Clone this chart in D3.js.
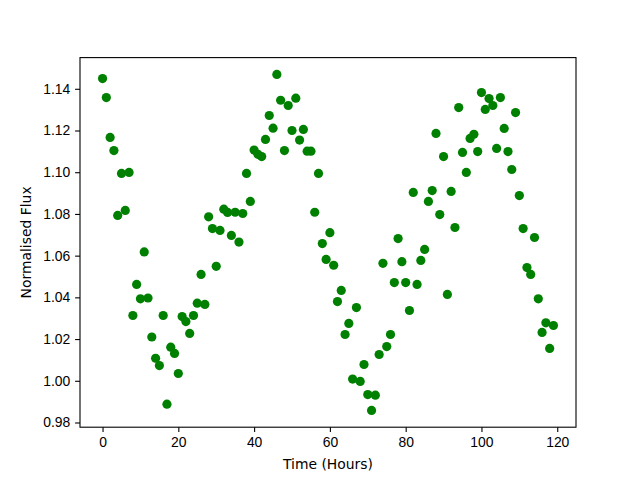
<!DOCTYPE html>
<html lang="en">
<head>
  <meta charset="UTF-8">
  <title>Normalised Flux</title>
  <script src="https://d3js.org/d3.v7.min.js"></script>
  <style>
    body { margin: 0; background: #fff; }
    svg { display: block; font-family: "DejaVu Sans", sans-serif; }
    .axis text { font-size: 13.9px; fill: #000; }
    .axis path, .axis line { stroke: #000; stroke-width: 1.1px; }
    .axis-label { font-size: 13.9px; fill: #000; }
  </style>
</head>
<body>
  <div id="chart"></div>

  <script>
    // Hours since start
    const hours = d3.range(0, 120);

    // Normalised flux, one value per hour
    const flux = [
      1.1449, 1.1358, 1.1167, 1.1104, 1.0793, 1.0994, 1.0817, 1.0999, 1.0313, 1.0462,
      1.0393, 1.0618, 1.0397, 1.0210, 1.0108, 1.0073, 1.0313, 0.9888, 1.0161, 1.0131,
      1.0035, 1.0308, 1.0284, 1.0227, 1.0313, 1.0372, 1.0510, 1.0366, 1.0786, 1.0730,
      1.0549, 1.0721, 1.0823, 1.0807, 1.0697, 1.0808, 1.0665, 1.0802, 1.0994, 1.0860,
      1.1106, 1.1086, 1.1075, 1.1157, 1.1272, 1.1211, 1.1469, 1.1345, 1.1104, 1.1320,
      1.1200, 1.1355, 1.1154, 1.1205, 1.1101, 1.1101, 1.0808, 1.0994, 1.0658, 1.0582,
      1.0710, 1.0554, 1.0380, 1.0433, 1.0222, 1.0275, 1.0008, 1.0351, 0.9997, 1.0078,
      0.9934, 0.9858, 0.9931, 1.0126, 1.0563, 1.0164, 1.0222, 1.0471, 1.0682, 1.0571,
      1.0471, 1.0337, 1.0903, 1.0462, 1.0577, 1.0630, 1.0860, 1.0912, 1.1186, 1.0797,
      1.1075, 1.0414, 1.0908, 1.0735, 1.1310, 1.1095, 1.0999, 1.1162, 1.1182, 1.1099,
      1.1382, 1.1301, 1.1353, 1.1320, 1.1114, 1.1358, 1.1210, 1.1099, 1.1013, 1.1286,
      1.0888, 1.0730, 1.0543, 1.0510, 1.0687, 1.0393, 1.0232, 1.0278, 1.0155, 1.0265
    ];

    const xTicks = [0, 20, 40, 60, 80, 100, 120];
    const yTicks = [0.98, 1.00, 1.02, 1.04, 1.06, 1.08, 1.10, 1.12, 1.14];

    const points = hours.map((h, i) => ({ hour: h, flux: flux[i] }));

    // Same figure layout as a default matplotlib figure
    const W = 640, H = 480;
    const margin = {top: 57.6, right: 64, bottom: 52.8, left: 80},
          width = W - margin.left - margin.right,
          height = H - margin.top - margin.bottom;

    const svg = d3.select("#chart")
                  .append("svg")
                  .attr("width", W)
                  .attr("height", H);

    const g = svg.append("g")
                 .attr("transform", `translate(${margin.left}, ${margin.top})`);

    // 5% padding around the data, like matplotlib autoscale
    function padded(ext) {
      const p = (ext[1] - ext[0]) * 0.05;
      return [ext[0] - p, ext[1] + p];
    }

    const x = d3.scaleLinear()
                .domain(padded(d3.extent(hours)))
                .range([0, width]);

    const y = d3.scaleLinear()
                .domain(padded(d3.extent(flux)))
                .range([height, 0]);

    // Points
    g.selectAll("circle")
     .data(points)
     .enter()
     .append("circle")
     .attr("cx", d => x(d.hour))
     .attr("cy", d => y(d.flux))
     .attr("r", 4.6)
     .attr("fill", "#008000");

    // Axes
    g.append("g")
     .attr("class", "axis")
     .attr("transform", `translate(0, ${height})`)
     .call(d3.axisBottom(x).tickValues(xTicks).tickFormat(d3.format("d"))
             .tickSize(4.9).tickPadding(4.9))
     .call(a => a.select(".domain").remove());

    g.append("g")
     .attr("class", "axis")
     .call(d3.axisLeft(y).tickValues(yTicks).tickFormat(d3.format(".2f"))
             .tickSize(4.9).tickPadding(4.9))
     .call(a => a.select(".domain").remove());

    // Frame
    g.append("rect")
     .attr("width", width)
     .attr("height", height)
     .attr("fill", "none")
     .attr("stroke", "#000")
     .attr("stroke-width", 1.1);

    // Axis labels
    g.append("text")
     .attr("class", "axis-label")
     .attr("x", width / 2)
     .attr("y", height + 41.5)
     .attr("text-anchor", "middle")
     .text("Time (Hours)");

    g.append("text")
     .attr("class", "axis-label")
     .attr("transform", "rotate(-90)")
     .attr("x", -height / 2)
     .attr("y", -49)
     .attr("text-anchor", "middle")
     .text("Normalised Flux");
  </script>
</body>
</html>
